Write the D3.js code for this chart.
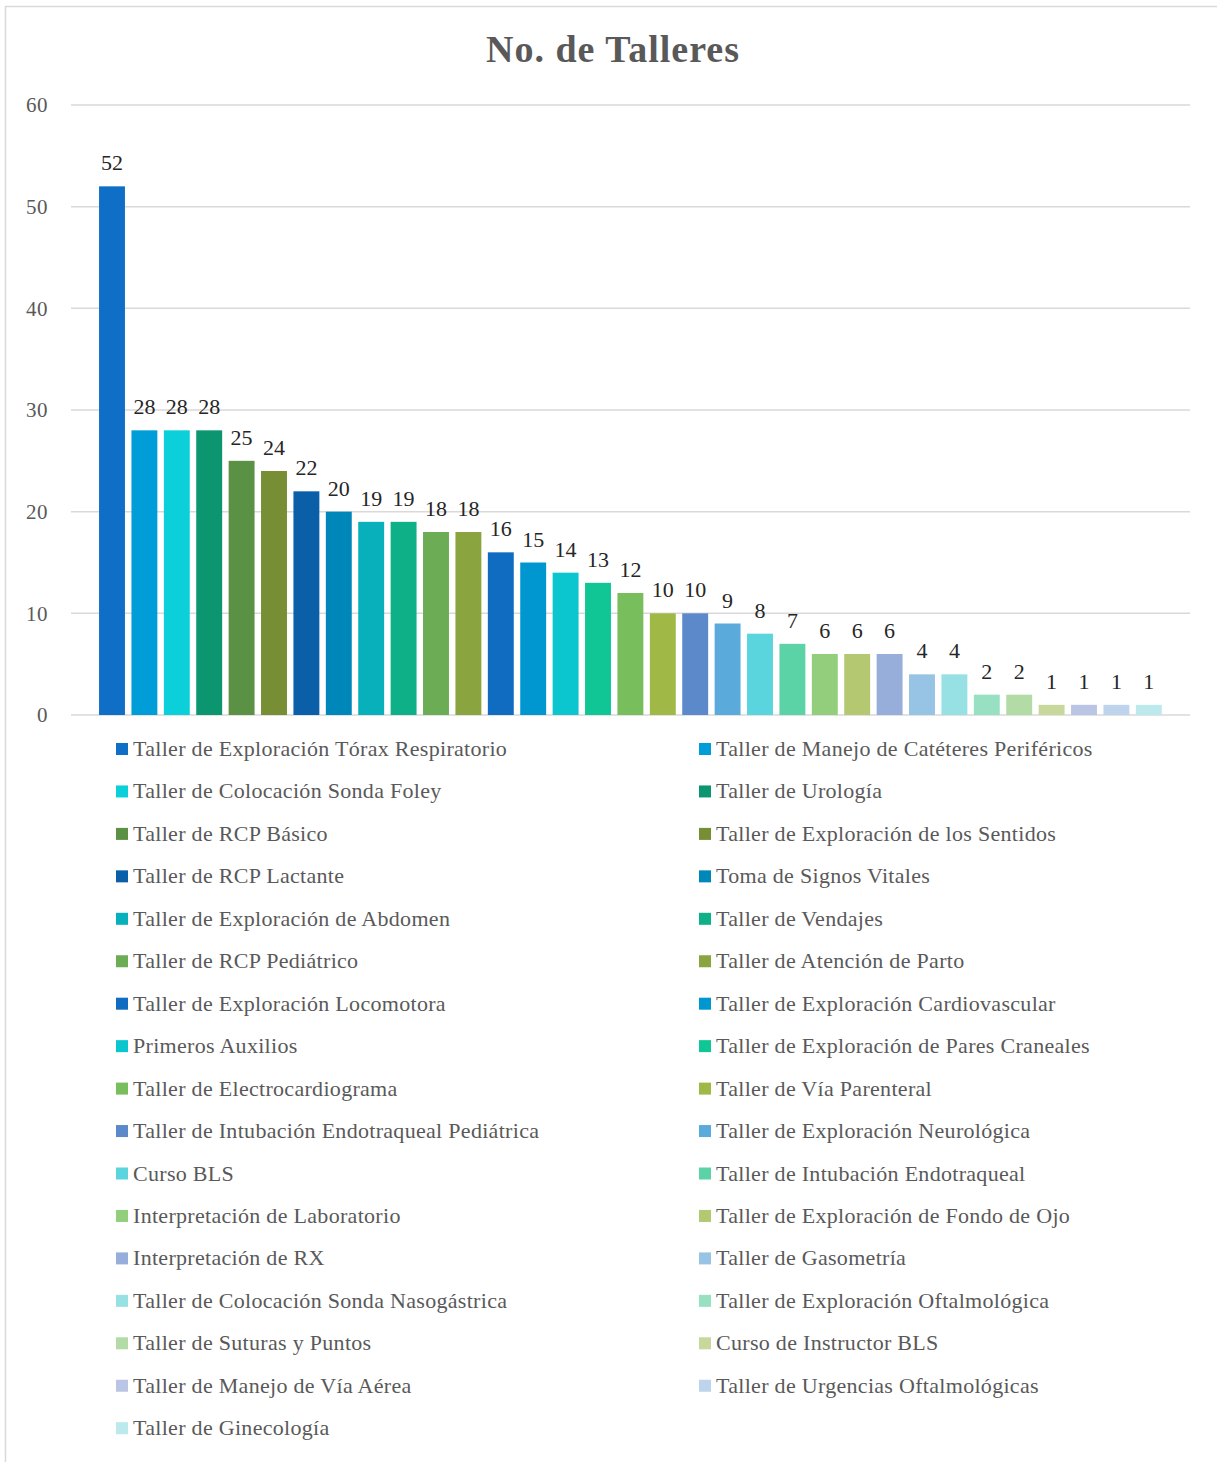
<!DOCTYPE html>
<html>
<head>
<meta charset="utf-8">
<script src="https://cdn.jsdelivr.net/npm/d3@7"></script>
<style>
  body { margin: 0; background: #fff; }
  text { font-family: "Liberation Serif", "DejaVu Serif", serif; }
</style>
</head>
<body>
<div id="chart"></div>
<script>
const width = 1217;
const height = 1462;

// Data
const talleres = [
  "Taller de Exploración Tórax Respiratorio",
  "Taller de Manejo de Catéteres Periféricos",
  "Taller de Colocación Sonda Foley",
  "Taller de Urología",
  "Taller de RCP Básico",
  "Taller de Exploración de los Sentidos",
  "Taller de RCP Lactante",
  "Toma de Signos Vitales",
  "Taller de Exploración de Abdomen",
  "Taller de Vendajes",
  "Taller de RCP Pediátrico",
  "Taller de Atención de Parto",
  "Taller de Exploración Locomotora",
  "Taller de Exploración Cardiovascular",
  "Primeros Auxilios",
  "Taller de Exploración de Pares Craneales",
  "Taller de Electrocardiograma",
  "Taller de Vía Parenteral",
  "Taller de Intubación Endotraqueal Pediátrica",
  "Taller de Exploración Neurológica",
  "Curso BLS",
  "Taller de Intubación Endotraqueal",
  "Interpretación de Laboratorio",
  "Taller de Exploración de Fondo de Ojo",
  "Interpretación de RX",
  "Taller de Gasometría",
  "Taller de Colocación Sonda Nasogástrica",
  "Taller de Exploración Oftalmológica",
  "Taller de Suturas y Puntos",
  "Curso de Instructor BLS",
  "Taller de Manejo de Vía Aérea",
  "Taller de Urgencias Oftalmológicas",
  "Taller de Ginecología"
];

const numTalleres = [52, 28, 28, 28, 25, 24, 22, 20, 19, 19, 18, 18, 16, 15, 14, 13, 12,
  10, 10, 9, 8, 7, 6, 6, 6, 4, 4, 2, 2, 1, 1, 1, 1];

const colores = [
  "#0F6FC6", "#009DD9", "#0BD0D9", "#0C9670", "#5A9145", "#778E35",
  "#0B5EA8", "#0087BA", "#07B0BB", "#0EB087", "#6BAC55", "#8AA43F",
  "#0F6CC0", "#0096D0", "#0CC6CF", "#10C694", "#78BE5D", "#A0B846",
  "#5B89CA", "#5AABDB", "#5AD5DD", "#5BD3A7", "#92CE7C", "#B3C870",
  "#97AEDA", "#97C3E5", "#97E0E4", "#97E0C2", "#B2DBA5", "#C8D89C",
  "#BAC5E6", "#BDD4EC", "#BBE9EC"
];

const yTicks = [0, 10, 20, 30, 40, 50, 60];

const svg = d3.select("#chart")
  .append("svg")
  .attr("width", width)
  .attr("height", height);

// Chart border (only top and left visible in the frame)
svg.append("rect")
  .attr("x", 5.5)
  .attr("y", 6.5)
  .attr("width", 1240)
  .attr("height", 1500)
  .attr("fill", "none")
  .attr("stroke", "#D9D9D9")
  .attr("stroke-width", 1.5);

// Title
svg.append("text")
  .attr("x", 613)
  .attr("y", 62)
  .attr("text-anchor", "middle")
  .attr("font-size", "38px")
  .attr("font-weight", "bold")
  .attr("letter-spacing", "1px")
  .attr("fill", "#595959")
  .text("No. de Talleres");

// Scales
const plotLeft = 71, plotRight = 1190;

const xScale = d3.scaleBand()
  .domain(d3.range(talleres.length))
  .range([95.8, 1165])
  .paddingInner(0.2)
  .paddingOuter(0.1);

const yScale = d3.scaleLinear()
  .domain([0, 60])
  .range([715, 105]);

// Grid lines
svg.append("g")
  .selectAll("line")
  .data(yTicks)
  .enter()
  .append("line")
  .attr("x1", plotLeft)
  .attr("x2", plotRight)
  .attr("y1", d => yScale(d))
  .attr("y2", d => yScale(d))
  .attr("stroke", "#D9D9D9")
  .attr("stroke-width", 1.5);

// Y axis
const yAxis = d3.axisLeft(yScale)
  .tickValues(yTicks)
  .tickSize(0)
  .tickPadding(0);

const yAxisG = svg.append("g")
  .attr("transform", "translate(48,0)")
  .call(yAxis);
yAxisG.select(".domain").remove();
yAxisG.selectAll("text")
  .attr("font-family", "Liberation Serif, serif")
  .attr("font-size", "21px")
  .attr("letter-spacing", "0.5px")
  .attr("fill", "#595959");

// Bars
svg.append("g")
  .selectAll("rect")
  .data(numTalleres)
  .enter()
  .append("rect")
  .attr("x", (d, i) => xScale(i))
  .attr("y", d => yScale(d))
  .attr("width", xScale.bandwidth())
  .attr("height", d => yScale(0) - yScale(d))
  .attr("fill", (d, i) => colores[i]);

// Value labels
svg.append("g")
  .selectAll("text")
  .data(numTalleres)
  .enter()
  .append("text")
  .attr("x", (d, i) => xScale(i) + xScale.bandwidth() / 2)
  .attr("y", d => yScale(d) - 16)
  .attr("text-anchor", "middle")
  .attr("font-size", "22px")
  .attr("fill", "#262626")
  .text(d => d);

// Legend
const legendCols = [116, 699];
const legendY0 = 749;
const legendStep = 42.45;

const legend = svg.append("g")
  .selectAll("g")
  .data(talleres)
  .enter()
  .append("g")
  .attr("transform", (d, i) =>
    `translate(${legendCols[i % 2]},${legendY0 + Math.floor(i / 2) * legendStep})`);

legend.append("rect")
  .attr("x", 0)
  .attr("y", -6)
  .attr("width", 12)
  .attr("height", 12)
  .attr("fill", (d, i) => colores[i]);

legend.append("text")
  .attr("x", 17)
  .attr("y", 7)
  .attr("font-size", "22px")
  .attr("letter-spacing", "0.3px")
  .attr("fill", "#595959")
  .text(d => d);
</script>
</body>
</html>
